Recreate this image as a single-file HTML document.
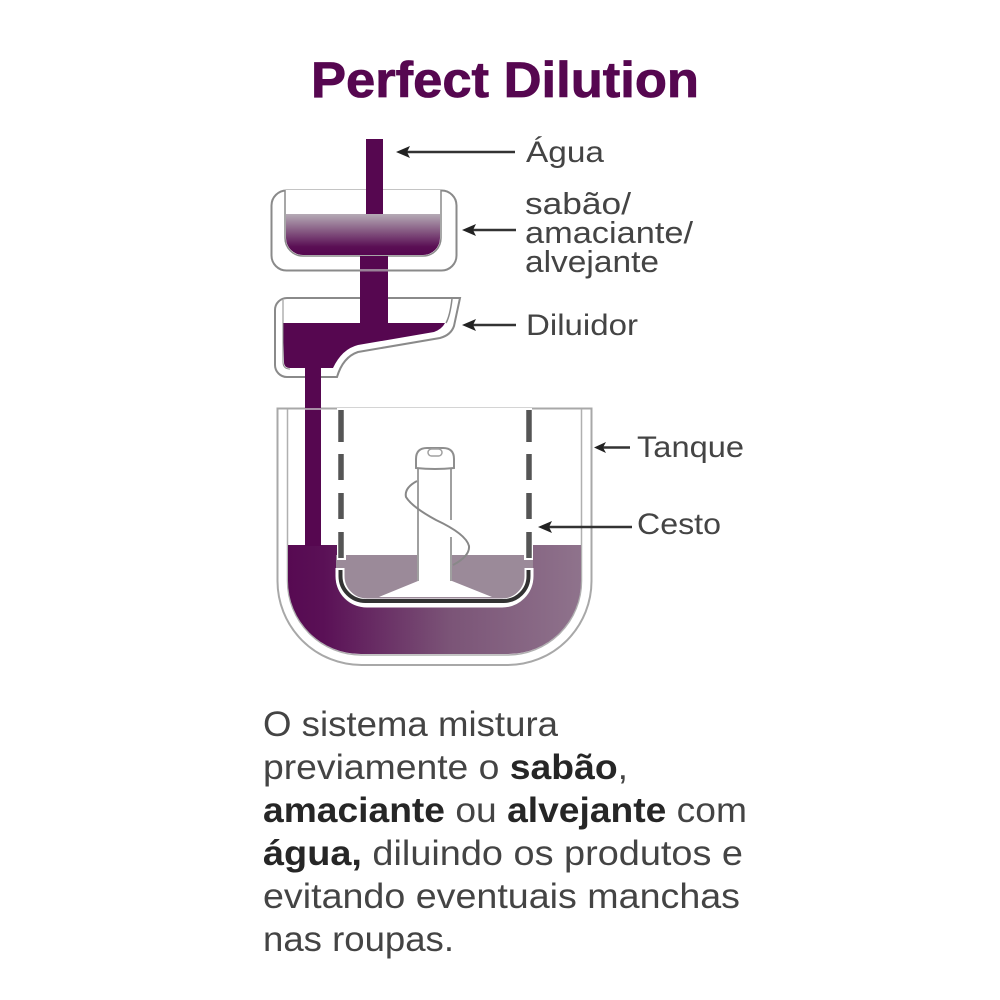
<!DOCTYPE html>
<html><head><meta charset="utf-8"><style>
html,body{margin:0;padding:0;background:#fff}
svg{display:block}
text{font-family:"Liberation Sans",sans-serif;fill:#444}
.b{font-weight:bold;fill:#262626}
</style></head><body>
<svg width="1000" height="1000" viewBox="0 0 1000 1000" xmlns="http://www.w3.org/2000/svg">
<defs>
<linearGradient id="g1" x1="0" y1="0" x2="0" y2="1"><stop offset="0" stop-color="#b5abb5"/><stop offset="0.8" stop-color="#5a0f54"/><stop offset="1" stop-color="#560750"/></linearGradient>
<linearGradient id="g2" gradientUnits="userSpaceOnUse" x1="288" y1="0" x2="582" y2="0"><stop offset="0" stop-color="#570a52"/><stop offset="0.12" stop-color="#5a1056"/><stop offset="0.55" stop-color="#7b5477"/><stop offset="1" stop-color="#8f738c"/></linearGradient>
</defs>

<text x="311" y="97" font-size="50" font-weight="bold" textLength="388" lengthAdjust="spacingAndGlyphs" style="fill:#560750;stroke:#560750;stroke-width:.8">Perfect Dilution</text>

<!-- Tray -->
<rect x="271.500" y="190.500" width="185" height="80" rx="15" fill="#fff" stroke="#8a8a8a" stroke-width="2"/>
<path d="M285 190V238A18 18 0 0 0 303 256H423A18 18 0 0 0 441 238V190" fill="#fff" stroke="#8a8a8a" stroke-width="1.500"/>
<path d="M286 214H440V238A17 17 0 0 1 423 255H303A17 17 0 0 1 286 238Z" fill="url(#g1)"/>
<rect x="366" y="139" width="17" height="75" fill="#560750"/>

<!-- Diluter -->
<path d="M460 298H287A12 12 0 0 0 275 310V365A12 12 0 0 0 287 377H337Q343 357 358 352L440 338Q451 335 454 326Z" fill="#fff" stroke="#8a8a8a" stroke-width="2"/>
<path d="M283 323H445Q442 329 434 332L358 345Q342 349 333 368H290Q284 368 284 362Z" fill="#560750"/>
<path d="M283 300V362Q283 369 290 369" fill="none" stroke="#8a8a8a" stroke-width="1"/>
<path d="M452 299Q450 316 446 323" fill="none" stroke="#8a8a8a" stroke-width="1.500"/>
<rect x="360" y="256" width="28" height="68" fill="#560750"/>
<rect x="360" y="269" width="28" height="2.500" fill="#9a8298"/>

<!-- Tank -->
<path d="M277.500 408.500H591.500V581A84 84 0 0 1 507.500 665H361.500A84 84 0 0 1 277.500 581Z" fill="#fff" stroke="#a8a8a8" stroke-width="2"/>
<path d="M287.500 409V581A74 74 0 0 0 361.500 655H507.500A74 74 0 0 0 581.500 581V409" fill="none" stroke="#b0b0b0" stroke-width="1.500"/>
<path d="M288 545H581V581A73 73 0 0 1 508 654H361A73 73 0 0 1 288 581Z" fill="url(#g2)"/>
<rect x="305" y="368" width="16" height="178" fill="#560750"/>
<rect x="305" y="408" width="16" height="2" fill="#a88ea6"/>

<!-- Basket interior -->
<rect x="337" y="408" width="195" height="147" fill="#fff"/>
<path d="M336 555H533V578A29 29 0 0 1 504 607H365A29 29 0 0 1 336 578Z" fill="#9b8a99"/>
<!-- basket bottom white outline + dark rim -->
<path d="M340 568V576A27 27 0 0 0 367 603H502A27 27 0 0 0 529 576V568" fill="none" stroke="#fff" stroke-width="9"/>
<path d="M340.500 570V576A25 25 0 0 0 365.500 601H503.500A25 25 0 0 0 528.500 576V570" fill="none" stroke="#333" stroke-width="4"/>
<!-- dashed walls -->
<path d="M337 545H346V560H337ZM524 545H533V560H524Z" fill="#fff"/>
<path d="M341 410V442M341 454V480M341 493V519M341 532V558M529 410V442M529 454V480M529 493V519M529 532V558" stroke="#555" stroke-width="5.500" fill="none"/>

<!-- Agitator -->
<path d="M418 597L379 597L418 581V470H451L452 581L492 597Z" fill="#fff"/>
<path d="M418 469V581M451 469V520M451 537V581" fill="none" stroke="#a0a0a0" stroke-width="2"/>
<path d="M416 468V459Q416 448 427 448H443Q454 448 454 459V468Q435 470 416 468Z" fill="#fff" stroke="#8e8e8e" stroke-width="2"/>
<rect x="428" y="449" width="14" height="7" rx="3.500" fill="#fff" stroke="#a0a0a0" stroke-width="1.500"/>
<path d="M417 481Q404 488 406 497Q412 507 436 520Q466 534 469 546Q470 556 453 565" fill="none" stroke="#888" stroke-width="2"/>

<!-- Arrows -->
<g stroke="#333" stroke-width="2.500" fill="none">
<path d="M515 152H405M516 230H471M516 325H471M630 447.500H603M632 527H547"/>
</g>
<g fill="#222">
<path d="M396 152L410 146L407 152L410 158Z"/>
<path d="M462 230L476 224L473 230L476 236Z"/>
<path d="M462 325L476 319L473 325L476 331Z"/>
<path d="M594 447.500L606 442L603 447.500L606 453Z"/>
<path d="M538 527L552 521L549 527L552 533Z"/>
</g>

<!-- Labels -->
<text x="526" y="162" font-size="30" textLength="78" lengthAdjust="spacingAndGlyphs">Água</text>
<text x="525" y="214" font-size="31" textLength="106" lengthAdjust="spacingAndGlyphs">sabão/</text>
<text x="525" y="243" font-size="31" textLength="168" lengthAdjust="spacingAndGlyphs">amaciante/</text>
<text x="525" y="272" font-size="31" textLength="134" lengthAdjust="spacingAndGlyphs">alvejante</text>
<text x="526" y="335" font-size="30" textLength="112" lengthAdjust="spacingAndGlyphs">Diluidor</text>
<text x="637" y="457" font-size="30" textLength="107" lengthAdjust="spacingAndGlyphs">Tanque</text>
<text x="637" y="534" font-size="30" textLength="84" lengthAdjust="spacingAndGlyphs">Cesto</text>

<!-- Paragraph -->
<text x="263" y="736" font-size="35" textLength="295" lengthAdjust="spacingAndGlyphs">O sistema mistura</text>
<text x="263" y="779" font-size="35" textLength="365" lengthAdjust="spacingAndGlyphs">previamente o <tspan class="b">sabão</tspan>,</text>
<text x="263" y="822" font-size="35" textLength="484" lengthAdjust="spacingAndGlyphs"><tspan class="b">amaciante</tspan> ou <tspan class="b">alvejante</tspan> com</text>
<text x="263" y="865" font-size="35" textLength="480" lengthAdjust="spacingAndGlyphs"><tspan class="b">água,</tspan> diluindo os produtos e</text>
<text x="263" y="908" font-size="35" textLength="477" lengthAdjust="spacingAndGlyphs">evitando eventuais manchas</text>
<text x="263" y="951" font-size="35" textLength="191" lengthAdjust="spacingAndGlyphs">nas roupas.</text>
</svg>
</body></html>
